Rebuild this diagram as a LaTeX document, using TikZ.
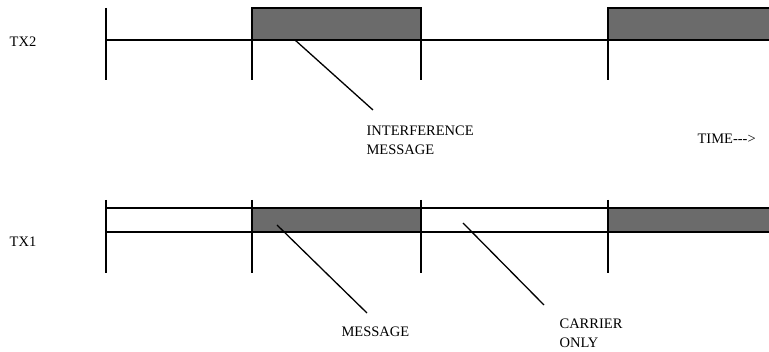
\documentclass[tikz,border=0pt]{standalone}
\usepackage{fontspec}
\setmainfont{Liberation Serif}
\begin{document}
\begin{tikzpicture}[x=1pt,y=-1pt,
  line width=1.2pt,
  lbl/.style={inner sep=0pt,font=\fontsize{14.5}{19}\selectfont},
  note/.style={lbl,align=left,anchor=north west},
  tick/.style={line width=1.1pt},
  busy/.style={fill=black!58,draw=black,line width=1.2pt},
  leader/.style={line width=1.3pt}]
\useasboundingbox (0,0) rectangle (769,352);

% ---------- TX2 ----------
\node[lbl] (tx2) at (23,42) {TX2};
\foreach \x/\n in {106/a,252/b,421/c,608/d}
  \draw[tick] (\x,8) coordinate (t2\n top) -- (\x,80) coordinate (t2\n bot);
\fill[black!58] (252,8) rectangle (421,40);
\fill[black!58] (608,8) rectangle (769,40);
\draw (252,80) -- (252,8) -- (421,8) -- (421,40);
\draw (608,40) -- (608,8) -- (769,8);
\draw (106,40) coordinate (b2start) -- (769,40) coordinate (b2end);

\coordinate (ifsrc) at (295,40);
\coordinate (ifend) at (373,110);
\draw[leader] (ifsrc) -- (ifend);
\node[note] (ifmsg) at (366,125) {INTERFERENCE\\MESSAGE};

\node[note] (time) at (697,133) {TIME{-}{-}{-}>};

% ---------- TX1 ----------
\node[lbl] (tx1) at (23,242) {TX1};
\fill[black!58] (252,208) rectangle (421,232);
\fill[black!58] (608,208) rectangle (769,232);
\foreach \x/\n in {106/a,252/b,421/c,608/d}
  \draw[tick] (\x,200) coordinate (t1\n top) -- (\x,273) coordinate (t1\n bot);
\draw (106,208) coordinate (u1start) -- (769,208) coordinate (u1end);
\draw (106,232) coordinate (l1start) -- (769,232) coordinate (l1end);

\coordinate (msgsrc) at (277,225);
\coordinate (msgend) at (367,313);
\draw[leader] (msgsrc) -- (msgend);
\node[note] (msg) at (341,326) {MESSAGE};

\coordinate (carsrc) at (463,223);
\coordinate (carend) at (544,305);
\draw[leader] (carsrc) -- (carend);
\node[note] (car) at (559,318) {CARRIER\\ONLY};
\end{tikzpicture}
\end{document}
